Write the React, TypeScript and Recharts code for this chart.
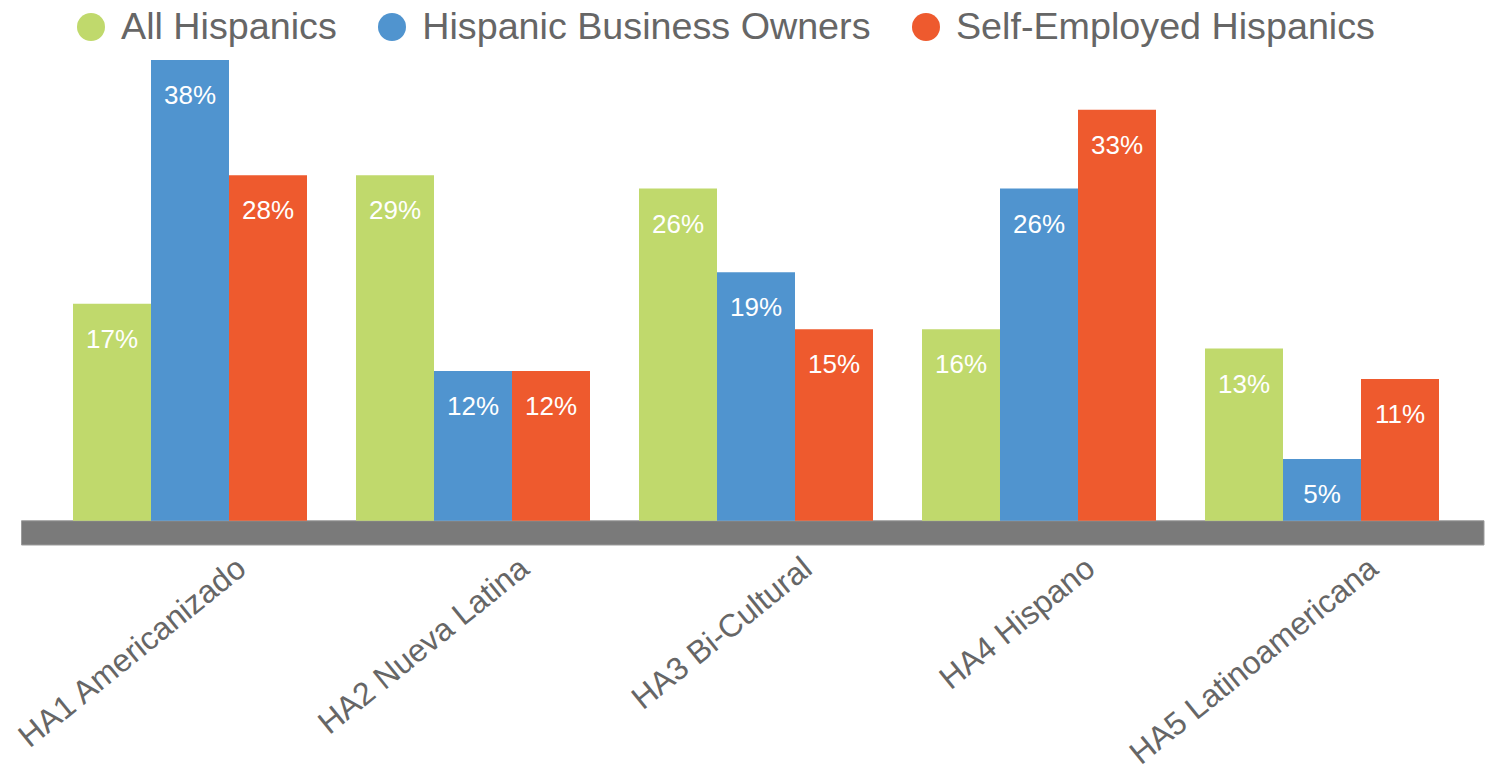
import { BarChart, Bar, XAxis, YAxis, Legend, LabelList, ReferenceArea } from 'recharts';

const FONT = '"Liberation Sans", Arial, Helvetica, sans-serif';

const categories = ['HA1 Americanizado', 'HA2 Nueva Latina', 'HA3 Bi-Cultural', 'HA4 Hispano', 'HA5 Latinoamericana'];

// bar heights as drawn in the picture
const allHispanics = [17.9, 28.5, 27.4, 15.8, 14.2];
const businessOwners = [38, 12.35, 20.5, 27.4, 5.1];
const selfEmployed = [28.5, 12.35, 15.8, 33.9, 11.7];

// printed labels
const allHispanicsLabels = ['17%', '29%', '26%', '16%', '13%'];
const businessOwnersLabels = ['38%', '12%', '19%', '26%', '5%'];
const selfEmployedLabels = ['28%', '12%', '15%', '33%', '11%'];

const SERIES = [
  { key: 'all', name: 'All Hispanics', color: '#c0d96c', values: allHispanics, labels: allHispanicsLabels },
  { key: 'owners', name: 'Hispanic Business Owners', color: '#5094cf', values: businessOwners, labels: businessOwnersLabels },
  { key: 'self', name: 'Self-Employed Hispanics', color: '#ee5a2e', values: selfEmployed, labels: selfEmployedLabels },
];

const data = categories.map((name, i) => {
  const row: Record<string, string | number> = { name };
  SERIES.forEach((s) => {
    row[s.key] = s.values[i];
    row[s.key + 'Label'] = s.labels[i];
  });
  return row;
});

function CategoryTick({ x, y, payload }: any) {
  const tx = x + 58;
  const ty = y + 27;
  return (
    <text
      x={tx}
      y={ty}
      transform={`rotate(-39, ${tx}, ${ty})`}
      textAnchor="end"
      fill="#666"
      fontSize={32}
      fontFamily={FONT}
    >
      {payload.value}
    </text>
  );
}

function BarLabel({ x, y, width, value }: any) {
  return (
    <text x={x + width / 2} y={y + 44} textAnchor="middle" fill="#fff" fontSize={26} fontFamily={FONT}>
      {value}
    </text>
  );
}

function TopLegend() {
  return (
    <div style={{ height: 54, display: 'flex', alignItems: 'center', paddingLeft: 77, gap: 41.5, fontFamily: FONT }}>
      {SERIES.map((s) => (
        <div key={s.key} style={{ display: 'flex', alignItems: 'center' }}>
          <span style={{ width: 28, height: 28, borderRadius: 14, background: s.color, marginRight: 16 }} />
          <span style={{ fontSize: 37.7, lineHeight: 1, color: '#666' }}>{s.name}</span>
        </div>
      ))}
    </div>
  );
}

export default function App() {
  return (
    <div style={{ position: 'fixed', left: 0, top: 0, background: '#fff' }}>
      <BarChart
        width={1493}
        height={772}
        data={data}
        margin={{ top: 6, right: 9, left: 21.5, bottom: 0 }}
        barGap={0}
        barCategoryGap={24.5}
      >
        <Legend
          verticalAlign="top"
          content={() => <TopLegend />}
          wrapperStyle={{ left: 0, top: 0, width: 1493 }}
        />
        <XAxis
          dataKey="name"
          interval={0}
          axisLine={false}
          tickLine={false}
          tickSize={0}
          tickMargin={0}
          height={227}
          padding={{ left: 27, right: 20.5 }}
          tick={<CategoryTick />}
        />
        <XAxis xAxisId="full" type="number" domain={[0, 1]} hide />
        <YAxis type="number" domain={[-2, 38]} allowDataOverflow hide />
        <ReferenceArea xAxisId="full" y1={-2} y2={0} fill="#7a7a7a" fillOpacity={1} stroke="#9c9c9c" strokeWidth={1} />
        {SERIES.map((s) => (
          <Bar key={s.key} dataKey={s.key} name={s.name} fill={s.color} isAnimationActive={false}>
            <LabelList dataKey={s.key + 'Label'} content={<BarLabel />} />
          </Bar>
        ))}
      </BarChart>
    </div>
  );
}
